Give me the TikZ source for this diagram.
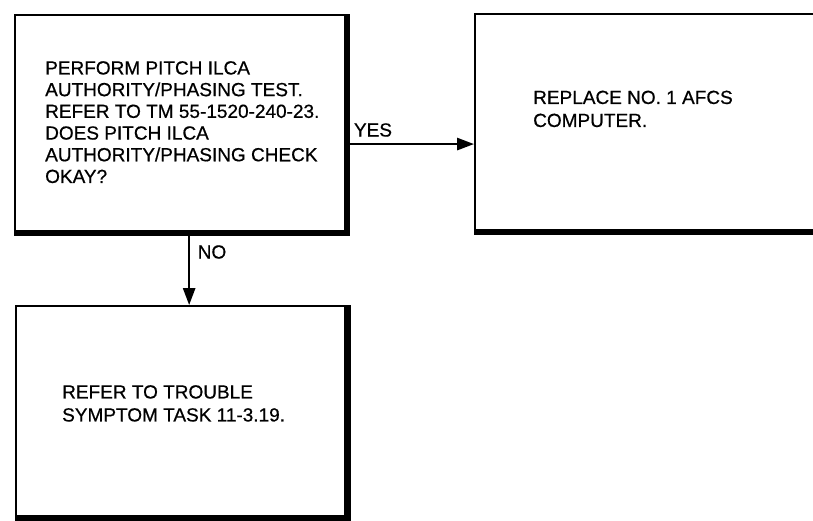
\documentclass[tikz,border=0pt]{standalone}
\usepackage{fontspec}
\setmainfont[FakeBold=0.6]{Liberation Sans}
\usetikzlibrary{arrows.meta,calc}
\begin{document}
\begin{tikzpicture}[x=1pt,y=-1pt,
  boxframe/.style={draw, line width=1.8pt, inner sep=0pt, minimum width=#1},
  shadowedge/.style={line width=6.5pt, line cap=butt, line join=miter},
  txt/.style={inner sep=0pt, anchor=north west, align=left, font=\fontsize{19}{21.7}\selectfont},
  txtb/.style={txt, font=\fontsize{19}{23}\selectfont},
  lbl/.style={inner sep=0pt, font=\fontsize{19}{21.7}\selectfont},
  arr/.style={line width=2.6pt, -{Triangle[length=17pt,width=12pt]}}]
\useasboundingbox (0,0) rectangle (813,521);
\clip (0,0) rectangle (813,521);
% boxes
\node[boxframe=331pt, minimum height=217pt] (b1) at (180.5,123.5) {};
\node[boxframe=355pt, minimum height=217pt] (b2) at (652.5,122.5) {};
\node[boxframe=330.5pt, minimum height=211pt] (b3) at (181.25,411.5) {};
\foreach \b in {b1,b2,b3}
  \draw[shadowedge] (\b.north east) -- (\b.south east) -- (\b.south west);
% texts
\node[txt] (t1) at (45,61) {PERFORM PITCH ILCA\\AUTHORITY/PHASING TEST.\\REFER TO TM 55-1520-240-23.\\DOES PITCH ILCA\\AUTHORITY/PHASING CHECK\\OKAY?};
\node[txtb] (t2) at (533,90.5) {REPLACE NO. 1 AFCS\\COMPUTER.};
\node[txtb] (t3) at (62,385) {REFER TO TROUBLE\\SYMPTOM TASK 11-3.19.};
% connectors
\coordinate (ys) at ($(b1.north east)!0.594!(b1.south east)$);
\coordinate (ns) at ($(b1.south west)!0.526!(b1.south east)$);
\draw[arr] (ys) -- (ys -| b2.west);
\draw[arr] (ns) -- (ns |- b3.north);
\node[lbl] (yes) at (373,130) {YES};
\node[lbl] (no) at (212,252) {NO};
\end{tikzpicture}
\end{document}
